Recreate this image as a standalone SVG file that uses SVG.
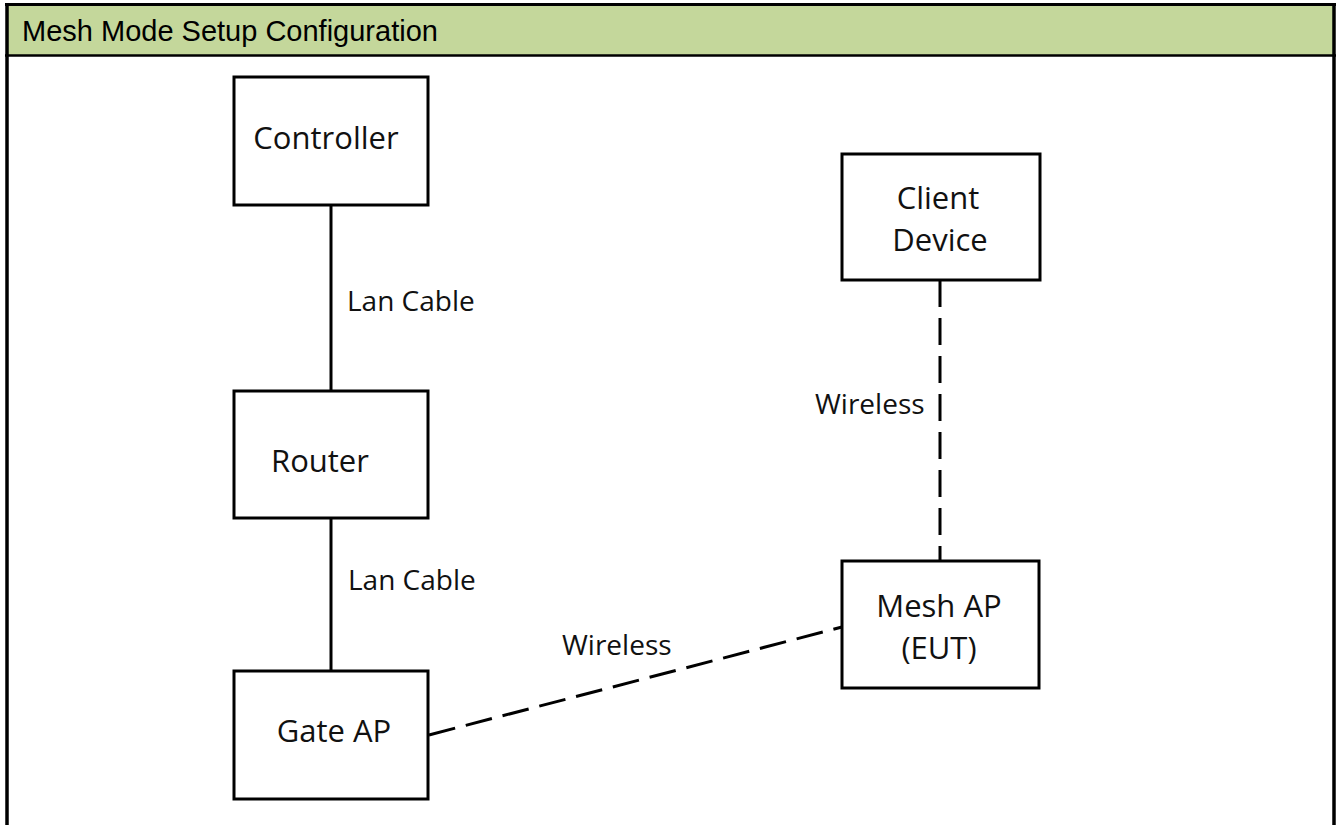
<svg xmlns="http://www.w3.org/2000/svg" width="1341" height="825" viewBox="0 0 1341 825">
<style>
.box{fill:#fff;stroke:#000;stroke-width:3}
.lbl{font-family:"Open Sans","Liberation Sans",sans-serif;font-size:31px;fill:#111}
.clbl{font-family:"Open Sans","Liberation Sans",sans-serif;font-size:28px;fill:#111}
.solid{stroke:#000;stroke-width:3;fill:none}
.dash{stroke:#000;stroke-width:3;fill:none;stroke-dasharray:27 11}
</style>
<rect x="0" y="0" width="1341" height="825" fill="#fff"/>
<g id="frame">
<rect x="6" y="4" width="1328" height="52" fill="#C4D79B"/>
<line x1="5" y1="4.5" x2="1336" y2="4.5" stroke="#000" stroke-width="3"/>
<line x1="7" y1="3" x2="7" y2="825" stroke="#000" stroke-width="3.5"/>
<line x1="1334" y1="3" x2="1334" y2="825" stroke="#000" stroke-width="3.5"/>
<line x1="5" y1="55.5" x2="1336" y2="55.5" stroke="#000" stroke-width="2.5"/>
<text x="22" y="41" font-family="Liberation Sans, Arial, sans-serif" font-size="29" fill="#000">Mesh Mode Setup Configuration</text>
</g>
<g id="connectors">
<line class="solid" x1="331" y1="205" x2="331" y2="391"/>
<line class="solid" x1="331" y1="518" x2="331" y2="671"/>
<line class="dash" x1="940" y1="280" x2="940" y2="561"/>
<line class="dash" x1="429" y1="735" x2="842" y2="627"/>
<text class="clbl" x="347" y="311">Lan Cable</text>
<text class="clbl" x="348" y="590">Lan Cable</text>
<text class="clbl" x="815" y="414">Wireless</text>
<text class="clbl" x="562" y="655">Wireless</text>
</g>
<g id="controller">
<rect class="box" x="234" y="77" width="194" height="128"/>
<text class="lbl" x="326" y="149" text-anchor="middle">Controller</text>
</g>
<g id="router">
<rect class="box" x="234" y="391" width="194" height="127"/>
<text class="lbl" x="320" y="472" text-anchor="middle">Router</text>
</g>
<g id="gate-ap">
<rect class="box" x="234" y="671" width="194" height="128"/>
<text class="lbl" x="334" y="742" text-anchor="middle">Gate AP</text>
</g>
<g id="client-device">
<rect class="box" x="842" y="154" width="198" height="126"/>
<text class="lbl" x="938" y="209" text-anchor="middle">Client</text>
<text class="lbl" x="940" y="251" text-anchor="middle">Device</text>
</g>
<g id="mesh-ap">
<rect class="box" x="842" y="561" width="197" height="127"/>
<text class="lbl" x="939" y="617" text-anchor="middle">Mesh AP</text>
<text class="lbl" x="939" y="659" text-anchor="middle">(EUT)</text>
</g>
</svg>
